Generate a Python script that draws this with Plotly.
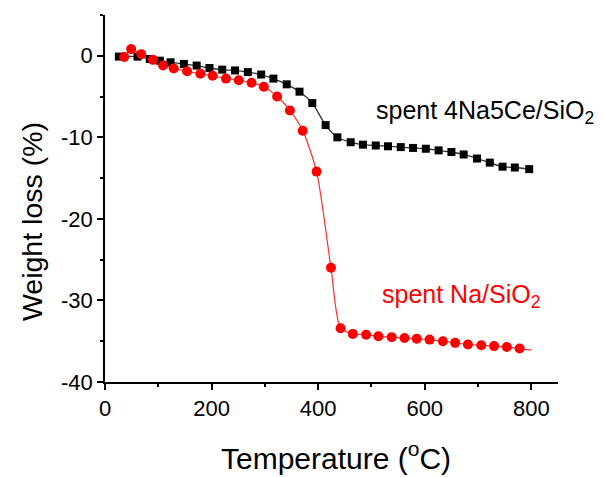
import plotly.graph_objects as go

# Black: spent 4Na5Ce/SiO2
t_ce = [26, 61, 84, 103, 123, 148, 172, 196, 220, 244, 268, 293, 316, 341, 365, 389, 414,
        436, 461, 484, 508, 531, 555, 578, 602, 626, 650, 673, 698, 722, 746, 769, 796]
w_ce = [-0.1, -0.1, -0.4, -0.6, -0.8, -1.0, -1.2, -1.5, -1.7, -1.8, -2.0, -2.3, -2.8, -3.5, -4.4, -5.8, -8.5,
        -10.0, -10.6, -10.9, -11.0, -11.1, -11.2, -11.3, -11.4, -11.6, -11.8, -12.1, -12.6, -13.1, -13.6, -13.7, -13.9]

# Red: spent Na/SiO2
t_na = [36, 49, 68, 90, 109, 129, 154, 179, 202, 227, 251, 275, 298, 323, 347, 371, 397, 424,
        442, 465, 490, 513, 538, 562, 585, 609, 634, 657, 681, 706, 730, 754, 778]
w_na = [-0.16, 0.82, 0.2, -0.5, -1.2, -1.55, -1.9, -2.2, -2.45, -2.8, -3.0, -3.3, -3.8, -5.0, -6.7, -9.2, -14.2, -26.0,
        -33.4, -34.1, -34.2, -34.4, -34.5, -34.6, -34.7, -34.8, -35.0, -35.2, -35.4, -35.5, -35.6, -35.7, -35.9]
t_na_end = 800
w_na_end = -36.1

x_ticks = [0, 200, 400, 600, 800]
y_ticks = [0, -10, -20, -30, -40]
y_tick_text = ["0", "-10", "-20", "-30", "-40"]

label_ce = "spent 4Na5Ce/SiO<sub>2</sub>"
label_na = "spent Na/SiO<sub>2</sub>"
x_title = "Temperature (<sup>o</sup>C)"
y_title = "Weight loss (%)"

FONT = "Arial, 'Liberation Sans', sans-serif"

fig = go.Figure()
fig.add_trace(go.Scatter(x=t_na + [t_na_end], y=w_na + [w_na_end], mode="lines",
                         line=dict(color="#ff3030", width=1.2, shape="spline", smoothing=0.7),
                         showlegend=False, hoverinfo="skip"))
fig.add_trace(go.Scatter(x=t_ce, y=w_ce, mode="lines+markers",
                         line=dict(color="#333333", width=1.3, shape="spline", smoothing=0.7),
                         marker=dict(symbol="square", size=8, color="black"),
                         showlegend=False))
fig.add_trace(go.Scatter(x=t_na, y=w_na, mode="markers",
                         marker=dict(symbol="circle", size=10, color="red"),
                         showlegend=False))

fig.add_annotation(x=504, y=-6.9, xref="x", yref="y", text=label_ce, showarrow=False,
                   xanchor="left", yanchor="middle", font=dict(family=FONT, size=25, color="black"))
fig.add_annotation(x=516, y=-29.4, xref="x", yref="y", text=label_na, showarrow=False,
                   xanchor="left", yanchor="middle", font=dict(family=FONT, size=25, color="red"))

# axis titles placed as annotations
fig.add_annotation(x=-0.161, y=0.436, xref="paper", yref="paper", text=y_title, showarrow=False,
                   textangle=-90, xanchor="center", yanchor="middle",
                   font=dict(family=FONT, size=28.5, color="black"))
fig.add_annotation(x=(336 - 105) / 453, y=(382 - 456) / 367, xref="paper", yref="paper", text=x_title,
                   showarrow=False, xanchor="center", yanchor="middle",
                   font=dict(family=FONT, size=30, color="black"))

axis_common = dict(showline=True, linecolor="black", linewidth=1.5, ticks="outside",
                   ticklen=6, tickwidth=1.5, tickcolor="black", showgrid=False, zeroline=False,
                   tickfont=dict(family=FONT, size=22, color="black"), mirror=False, automargin=False)

fig.update_xaxes(range=[0, 850], tickvals=x_ticks, ticktext=[str(v) for v in x_ticks],
                 minor=dict(dtick=100, tick0=0, ticks="outside", ticklen=3, tickwidth=1.5, tickcolor="black"),
                 **axis_common)
fig.update_yaxes(range=[-40, 5], tickvals=y_ticks, ticktext=y_tick_text,
                 minor=dict(dtick=5, tick0=0, ticks="outside", ticklen=3, tickwidth=1.5, tickcolor="black"),
                 **axis_common)

fig.update_layout(width=605, height=477, margin=dict(l=105, r=47, t=15, b=95),
                  plot_bgcolor="white", paper_bgcolor="white", font=dict(family=FONT))

fig.write_html("out.html")
